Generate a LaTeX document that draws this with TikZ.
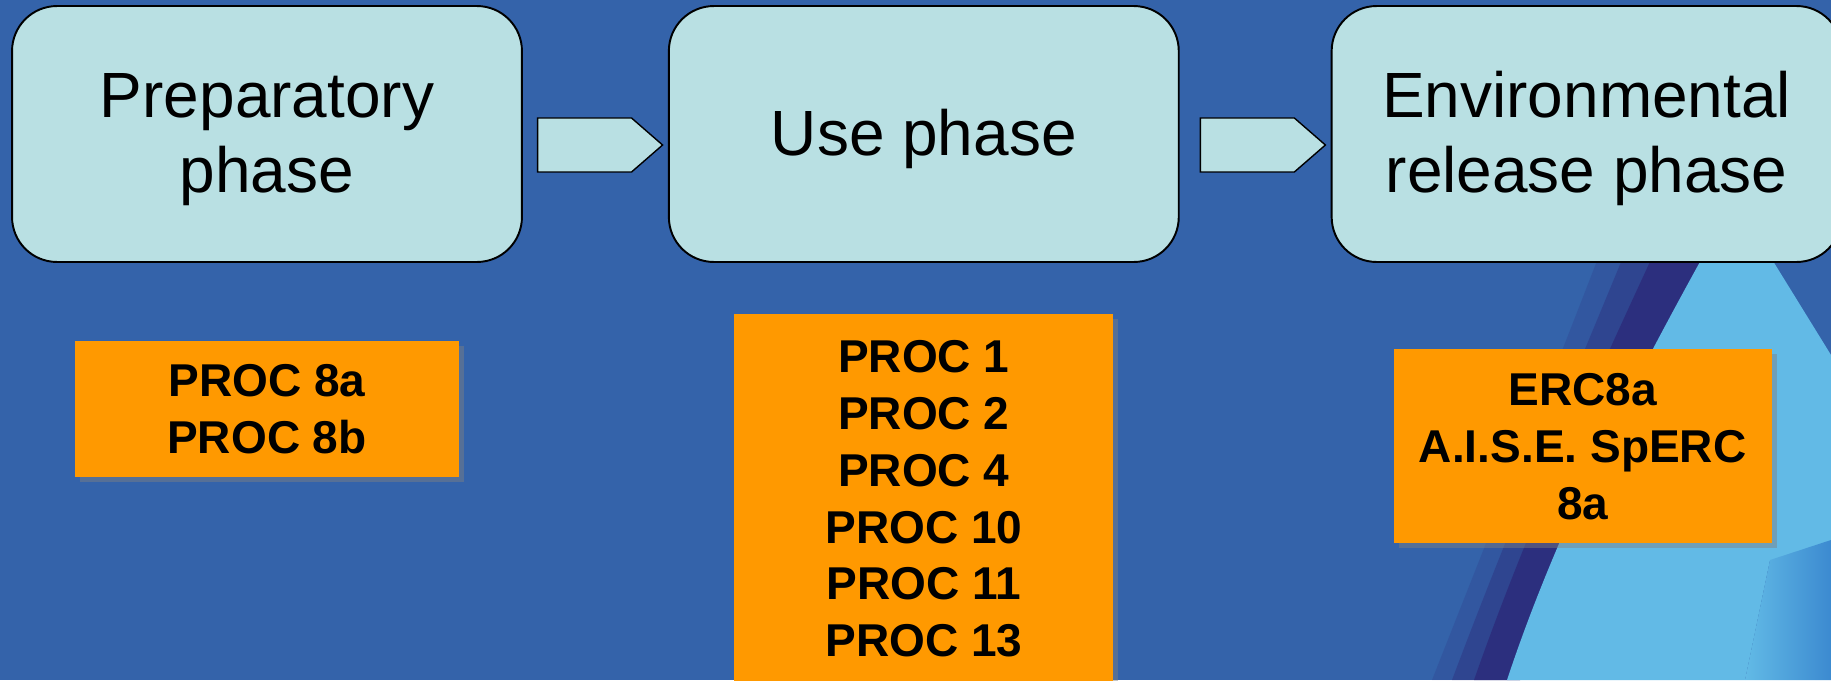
\documentclass[tikz,border=0pt]{standalone}
\usepackage{fontspec}
\setmainfont{Liberation Sans}
\usetikzlibrary{positioning,shapes.symbols,shadows}
\definecolor{slide blue}{RGB}{52,99,170}
\definecolor{swoosh dark}{RGB}{44,42,122}
\definecolor{swoosh light}{RGB}{98,186,230}
\definecolor{swoosh mid}{RGB}{60,138,208}
\definecolor{pale cyan}{RGB}{185,224,227}
\definecolor{proc orange}{RGB}{255,153,0}

\begin{document}
\begin{tikzpicture}[
        x=0.02cm, y=-0.02cm,
        phase/.style={
            draw=black,
            line width=1.1pt,
            fill=pale cyan,
            rounded corners=0.9cm,
            minimum width=10.2cm,
            minimum height=5.12cm,
            align=center,
            text height=2.61cm,
            font=\fontsize{36.4}{42.7}\selectfont
        },
        blockarrow/.style={
            shape=signal,
            signal to=east,
            signal pointer angle=82,
            draw=black,
            line width=0.8pt,
            fill=pale cyan,
            inner sep=0pt,
            minimum width=2.5cm,
            minimum height=1.08cm
        },
        procbox/.style={
            fill=proc orange,
            drop shadow={shadow xshift=0.1cm, shadow yshift=-0.1cm, opacity=0.45},
            align=center,
            font=\bfseries\fontsize{26.2}{32.4}\selectfont
        }
    ]

    \useasboundingbox (0,0) rectangle (1831,680);
    \clip (0,0) rectangle (1831,680);

    % background with the swoosh at the lower right
    \fill[slide blue] (0,0) rectangle (1831,680);
    \fill[swoosh dark, opacity=0.2] (1605,240) -- (1720,240) -- (1520,680) -- (1432,680)
        .. controls (1495,520) and (1555,370) .. (1605,240) -- cycle;
    \fill[swoosh dark, opacity=0.4] (1630,240) -- (1720,240) -- (1520,680) -- (1452,680)
        .. controls (1512,520) and (1577,370) .. (1630,240) -- cycle;
    \fill[swoosh dark, opacity=0.8] (1660,240) -- (1720,240) -- (1520,680) -- (1474,680)
        .. controls (1530,520) and (1600,370) .. (1660,240) -- cycle;
    \fill[swoosh light] (1712,240) -- (1760,240) -- (1831,355) -- (1831,560) -- (1770,560)
        -- (1745,680) -- (1507,680) .. controls (1560,520) and (1640,370) .. (1712,240) -- cycle;
    \shade[left color=swoosh light, right color=swoosh mid] (1770,560) -- (1831,540) -- (1831,680)
        -- (1745,680) -- cycle;

    % phases
    \node[phase] (prep) at (267,134) {Preparatory\\phase};
    \node[phase, right=2.9cm of prep, text height=0.84cm, text depth=0cm] (use) {Use phase};
    \node[phase, right=3.02cm of use] (env) {Environmental\\release phase};

    \node[blockarrow, right=0.28cm of prep, yshift=-0.22cm] (prep2use) {};
    \node[blockarrow, right=0.4cm of use, yshift=-0.22cm] (use2env) {};

    % process categories
    \node[procbox, below=1.56cm of prep, minimum width=7.68cm, minimum height=2.72cm] (prepproc)
        {PROC 8a\\PROC 8b};
    \node[procbox, below=1.02cm of use, minimum width=7.58cm, minimum height=7.38cm] (useproc)
        {PROC 1\\PROC 2\\PROC 4\\PROC 10\\PROC 11\\PROC 13};
    \node[procbox, below=1.72cm of env, xshift=-0.08cm, minimum width=7.56cm, minimum height=3.88cm] (envproc)
        {ERC8a\\A.I.S.E. SpERC\\8a};

\end{tikzpicture}
\end{document}
